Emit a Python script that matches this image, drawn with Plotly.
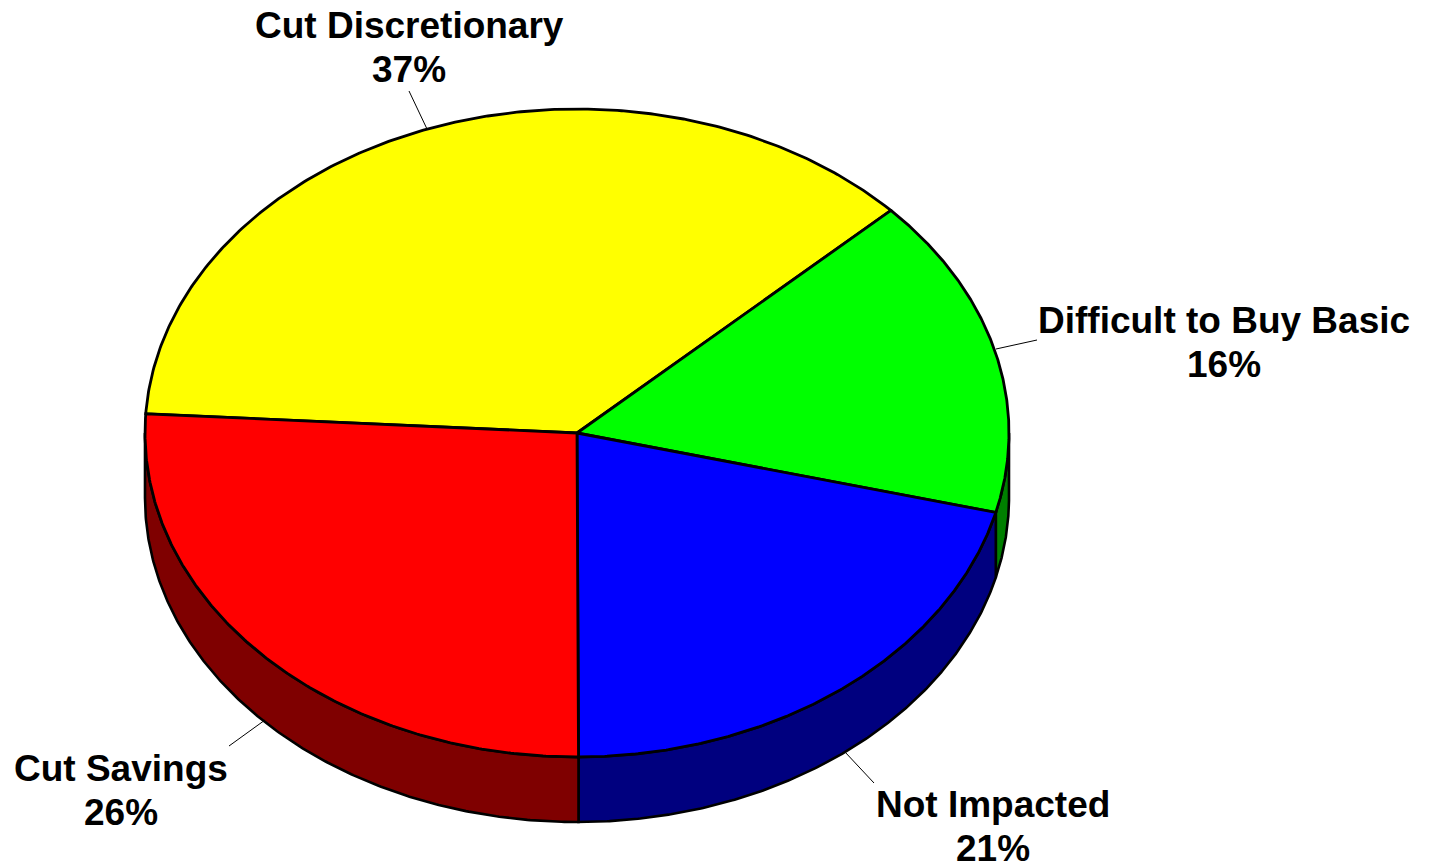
import numpy as np
import plotly.graph_objects as go

categories = ["Cut Discretionary", "Difficult to Buy Basic", "Not Impacted", "Cut Savings"]
values = [37, 16, 21, 26]
top_colors = ["#ffff00", "#00ff00", "#0000ff", "#ff0000"]
side_colors = ["#7f7f00", "#007f00", "#00007f", "#7f0000"]
start_angle = -86.6

CX, CY, RX, RY, DEPTH = 577, 433, 432, 324, 65
FONT = "Liberation Sans, Arial, sans-serif"
FONT_SIZE = 37
LINE_GAP = 44.5
label_pos = [(409, 25), (1224, 320), (993, 804), (121, 768)]
leaders = [((409, 91), (427, 129)), ((1037, 340), (996, 349)),
           ((874, 783), (845, 752)), ((229, 746), (265, 720))]


def arc(a0, a1, dy=0, n=240):
    t = np.radians(np.linspace(a0, a1, n))
    return CX + RX * np.sin(t), CY - RY * np.cos(t) + dy


fig = go.Figure()
edges = np.concatenate([[0], np.cumsum(values)]) / sum(values) * 360 + start_angle

# side walls (only the front half, 90..270 deg, is visible)
for i in range(len(values)):
    a0, a1 = edges[i], edges[i + 1]
    for shift in (0, 360, -360):
        lo, hi = max(a0 + shift, 90), min(a1 + shift, 270)
        if hi > lo:
            x1, y1 = arc(lo, hi)
            x2, y2 = arc(hi, lo, DEPTH)
            fig.add_trace(go.Scatter(
                x=np.r_[x1, x2, x1[0]], y=np.r_[y1, y2, y1[0]], mode="lines", fill="toself",
                fillcolor=side_colors[i], line=dict(color="black", width=2.6),
                hoverinfo="skip", showlegend=False))

# top slices
for i in range(len(values)):
    x, y = arc(edges[i], edges[i + 1])
    fig.add_trace(go.Scatter(
        x=np.r_[CX, x, CX], y=np.r_[CY, y, CY], mode="lines", fill="toself",
        fillcolor=top_colors[i], line=dict(color="black", width=2.8),
        name=categories[i], hoverinfo="skip", showlegend=False))

# leader lines
for (p0, p1) in leaders:
    fig.add_trace(go.Scatter(x=[p0[0], p1[0]], y=[p0[1], p1[1]], mode="lines",
                             line=dict(color="black", width=1), hoverinfo="skip", showlegend=False))

for cat, val, (lx, ly) in zip(categories, values, label_pos):
    for text, yy in ((cat, ly), (f"{val}%", ly + LINE_GAP)):
        fig.add_annotation(x=lx, y=yy, xref="x", yref="y", text=text, showarrow=False,
                           font=dict(family=FONT, size=FONT_SIZE, color="black", weight="bold"),
                           xanchor="center", yanchor="middle")

fig.update_layout(
    width=1430, height=867, margin=dict(l=0, r=0, t=0, b=0),
    paper_bgcolor="white", plot_bgcolor="white",
    xaxis=dict(range=[0, 1430], visible=False, fixedrange=True),
    yaxis=dict(range=[867, 0], visible=False, fixedrange=True),
)
fig.write_html("out.html", post_script="document.body.style.margin='0';document.documentElement.style.overflow='hidden';",
               config={"displayModeBar": False})
